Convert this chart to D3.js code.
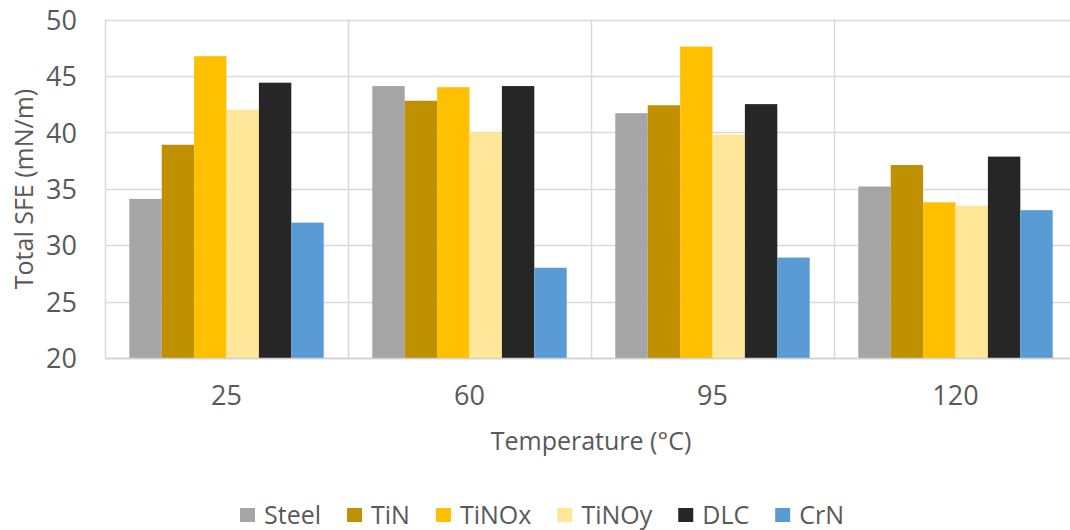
<!DOCTYPE html>
<html>
<head>
<meta charset="utf-8">
<script src="https://cdn.jsdelivr.net/npm/d3@7"></script>
<style>
  html, body { margin: 0; padding: 0; background: #fff; }
  svg { display: block; }
  text { font-family: "Open Sans", "Noto Sans", sans-serif; fill: #595959; }
</style>
</head>
<body>
<svg id="chart" width="1070" height="530"></svg>
<script>
const categories = ["25", "60", "95", "120"];
const seriesNames = ["Steel", "TiN", "TiNOx", "TiNOy", "DLC", "CrN"];
const seriesColors = ["#A5A5A5", "#BF9000", "#FFC000", "#FFE699", "#262626", "#5B9BD5"];
const steel = [34.1, 44.1, 41.7, 35.2];
const tin   = [38.9, 42.8, 42.4, 37.1];
const tinox = [46.75, 44.0, 47.6, 33.8];
const tinoy = [42.0, 40.0, 39.8, 33.5];
const dlc   = [44.4, 44.1, 42.5, 37.85];
const crn   = [32.0, 28.0, 28.9, 33.1];
const yTicks = [20, 25, 30, 35, 40, 45, 50];
const xTitle = "Temperature (°C)";
const yTitle = "Total SFE (mN/m)";

const seriesValues = [steel, tin, tinox, tinoy, dlc, crn];

const svg = d3.select("#chart");
const pLeft = 105, pRight = 1077, pTop = 19.5, pBottom = 358;

const x0 = d3.scaleBand().domain(categories).range([pLeft, pRight]).paddingInner(0).paddingOuter(0);
const x1 = d3.scaleBand().domain(seriesNames).range([0, x0.bandwidth()]).paddingInner(0).paddingOuter(0.75);
const y = d3.scaleLinear().domain([20, 50]).range([pBottom, pTop]);

// horizontal gridlines
svg.append("g").selectAll("line").data(yTicks).join("line")
  .attr("x1", pLeft).attr("x2", pRight)
  .attr("y1", d => Math.round(y(d)) + 0.5).attr("y2", d => Math.round(y(d)) + 0.5)
  .attr("stroke", "#D9D9D9").attr("stroke-width", 1.5);

// vertical category gridlines
const bounds = categories.map(c => x0(c)).concat([pRight]);
svg.append("g").selectAll("line").data(bounds).join("line")
  .attr("x1", d => Math.round(d) + 0.5).attr("x2", d => Math.round(d) + 0.5)
  .attr("y1", pTop).attr("y2", pBottom)
  .attr("stroke", "#D9D9D9").attr("stroke-width", 1.5);

// bars
const groups = svg.append("g").selectAll("g").data(categories).join("g")
  .attr("transform", c => `translate(${x0(c)},0)`);
groups.selectAll("rect")
  .data((c, ci) => seriesNames.map((s, si) => ({ s, si, v: seriesValues[si][ci] })))
  .join("rect")
  .attr("x", d => x1(d.s))
  .attr("width", x1.bandwidth())
  .attr("y", d => y(d.v))
  .attr("height", d => y(20) - y(d.v))
  .attr("fill", d => seriesColors[d.si]);

// bottom axis line
svg.append("line").attr("x1", pLeft).attr("x2", pRight)
  .attr("y1", Math.round(pBottom) + 0.5).attr("y2", Math.round(pBottom) + 0.5)
  .attr("stroke", "#D0D0D0").attr("stroke-width", 1.5);

// y axis via d3 axis, styled
const yAxis = d3.axisLeft(y).tickValues(yTicks).tickSize(0).tickPadding(28);
const yg = svg.append("g").attr("transform", `translate(${pLeft},0)`).call(yAxis);
yg.select(".domain").remove();
yg.selectAll("text").attr("font-size", 27).attr("fill", "#595959")
  .style("font-family", '"Open Sans", sans-serif').attr("dy", "0.36em");

// x axis labels
const xAxis = d3.axisBottom(x0).tickSize(0).tickPadding(28);
const xg = svg.append("g").attr("transform", `translate(0,${pBottom})`).call(xAxis);
xg.select(".domain").remove();
xg.selectAll("text").attr("font-size", 27).attr("fill", "#595959")
  .style("font-family", '"Open Sans", sans-serif').attr("dy", "0.71em");

// axis titles
svg.append("text").attr("x", 591).attr("y", 450).attr("text-anchor", "middle")
  .attr("font-size", 25).text(xTitle);
svg.append("text").attr("transform", "translate(33,189) rotate(-90)")
  .attr("text-anchor", "middle").attr("font-size", 25).text(yTitle);

// legend
const legend = svg.append("g");
let lx = 0;
seriesNames.forEach((s, i) => {
  const g = legend.append("g");
  g.append("rect").attr("x", 0).attr("y", -7).attr("width", 15).attr("height", 14).attr("fill", seriesColors[i]);
  const t = g.append("text").attr("x", 24).attr("y", 0).attr("dy", "0.36em").attr("font-size", 25).text(s);
  const w = 24 + t.node().getComputedTextLength();
  g.attr("transform", `translate(${lx},0)`);
  lx += w + 26;
});
const totalW = lx - 26;
legend.attr("transform", `translate(${542 - totalW / 2},515)`);
</script>
</body>
</html>
